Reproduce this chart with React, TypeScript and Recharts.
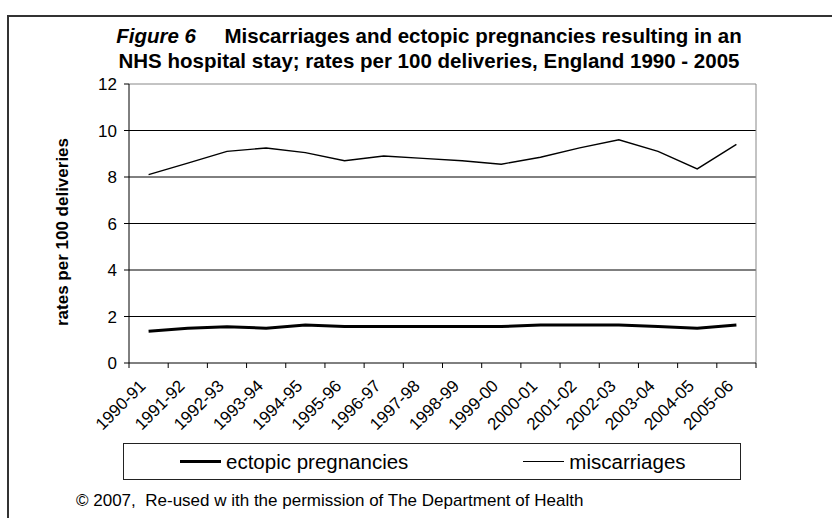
import { LineChart, Line, XAxis, YAxis, CartesianGrid } from "recharts";

const periods = [
  "1990-91", "1991-92", "1992-93", "1993-94", "1994-95", "1995-96", "1996-97", "1997-98",
  "1998-99", "1999-00", "2000-01", "2001-02", "2002-03", "2003-04", "2004-05", "2005-06",
];

// rates per 100 deliveries
const ectopic = [1.37, 1.49, 1.56, 1.5, 1.63, 1.57, 1.57, 1.57, 1.57, 1.57, 1.63, 1.63, 1.63, 1.57, 1.5, 1.63];
const miscarriages = [8.1, 8.6, 9.1, 9.25, 9.05, 8.7, 8.9, 8.8, 8.7, 8.55, 8.85, 9.25, 9.6, 9.1, 8.35, 9.4];

const yTicks = [0, 2, 4, 6, 8, 10, 12];
const gridValues = [2, 4, 6, 8, 10];

const series = [
  { key: "ectopic", name: "ectopic pregnancies", width: 3 },
  { key: "miscarriages", name: "miscarriages", width: 1.4 },
];

const data = periods.map((period, i) => ({
  period,
  ectopic: ectopic[i],
  miscarriages: miscarriages[i],
}));

const FONT = "'Liberation Sans', Arial, sans-serif";
const PLOT_W = 627;
const HALF_BAND = PLOT_W / periods.length / 2;

// Excel style: tick marks between categories, labels slanted under the centre
const PeriodTick = (props: any) => {
  const { x, y, payload } = props;
  const last = payload.value === periods[periods.length - 1];
  const ax = x - 2;
  const ay = y + 24;
  return (
    <g>
      <line x1={x - HALF_BAND} x2={x - HALF_BAND} y1={y} y2={y + 5} stroke="#000" />
      {last && <line x1={x + HALF_BAND} x2={x + HALF_BAND} y1={y} y2={y + 5} stroke="#000" />}
      <text
        x={ax}
        y={ay}
        textAnchor="end"
        transform={`rotate(-45 ${ax} ${ay})`}
        fontSize={17}
        fontFamily={FONT}
        fill="#000"
      >
        {payload.value}
      </text>
    </g>
  );
};

const App = () => {
  return (
    <div style={{ position: "absolute", left: 0, top: 0, width: 832, height: 518, background: "#fff", overflow: "hidden", fontFamily: FONT }}>
      {/* frame */}
      <div style={{ position: "absolute", left: 7, top: 15, width: 900, height: 600, borderLeft: "2px solid #333", borderTop: "2px solid #333" }} />

      <div style={{ position: "absolute", left: 7, top: 23, width: 844, textAlign: "center", fontWeight: "bold", fontSize: 20.5, lineHeight: "25px", whiteSpace: "pre", color: "#000" }}>
        <i>Figure 6</i>{"     "}Miscarriages and ectopic pregnancies resulting in an
        {"\n"}NHS hospital stay; rates per 100 deliveries, England 1990 - 2005
      </div>

      <div style={{ position: "absolute", left: 63, top: 232, transform: "translate(-50%, -50%) rotate(-90deg)", whiteSpace: "nowrap", fontWeight: "bold", fontSize: 17, color: "#000" }}>
        rates per 100 deliveries
      </div>

      <div style={{ position: "absolute", left: 0, top: 0 }}>
        <LineChart width={832} height={518} data={data} margin={{ top: 84, right: 76, bottom: 75, left: 69 }}>
          <CartesianGrid horizontal vertical={false} horizontalValues={gridValues} stroke="#000" />
          <CartesianGrid horizontal vertical={false} horizontalValues={[12]} stroke="#888" />
          <CartesianGrid
            horizontal={false}
            vertical
            verticalCoordinatesGenerator={({ offset }: any) => [offset.left + offset.width]}
            stroke="#888"
          />
          <XAxis
            dataKey="period"
            interval={0}
            height={80}
            padding={{ left: HALF_BAND, right: HALF_BAND }}
            tickLine={false}
            tickSize={0}
            tickMargin={0}
            axisLine={{ stroke: "#000" }}
            tick={<PeriodTick />}
          />
          <YAxis
            width={60}
            domain={[0, 12]}
            ticks={yTicks}
            interval={0}
            tickSize={5}
            tickMargin={7}
            axisLine={{ stroke: "#000" }}
            tickLine={{ stroke: "#000" }}
            tick={{ fill: "#000", fontSize: 17, fontFamily: FONT }}
          />
          {series.map((s) => (
            <Line
              key={s.key}
              dataKey={s.key}
              name={s.name}
              type="linear"
              stroke="#000"
              strokeWidth={s.width}
              dot={false}
              activeDot={false}
              isAnimationActive={false}
            />
          ))}
        </LineChart>
      </div>

      {/* legend */}
      <div style={{ position: "absolute", left: 123, top: 443, width: 618, height: 37, boxSizing: "border-box", border: "1px solid #222", display: "flex", alignItems: "center", paddingLeft: 56, gap: 115 }}>
        {series.map((s) => (
          <div key={s.key} style={{ display: "flex", alignItems: "center", fontSize: 20.5, color: "#000" }}>
            <span style={{ display: "inline-block", width: 41, height: s.width > 2 ? 3 : 1.4, background: "#000", marginRight: 5 }} />
            {s.name}
          </div>
        ))}
      </div>

      <div style={{ position: "absolute", left: 76, top: 491, fontSize: 17, whiteSpace: "pre", color: "#000" }}>
        {"© 2007,  Re-used w ith the permission of The Department of Health"}
      </div>
    </div>
  );
};

export default App;
